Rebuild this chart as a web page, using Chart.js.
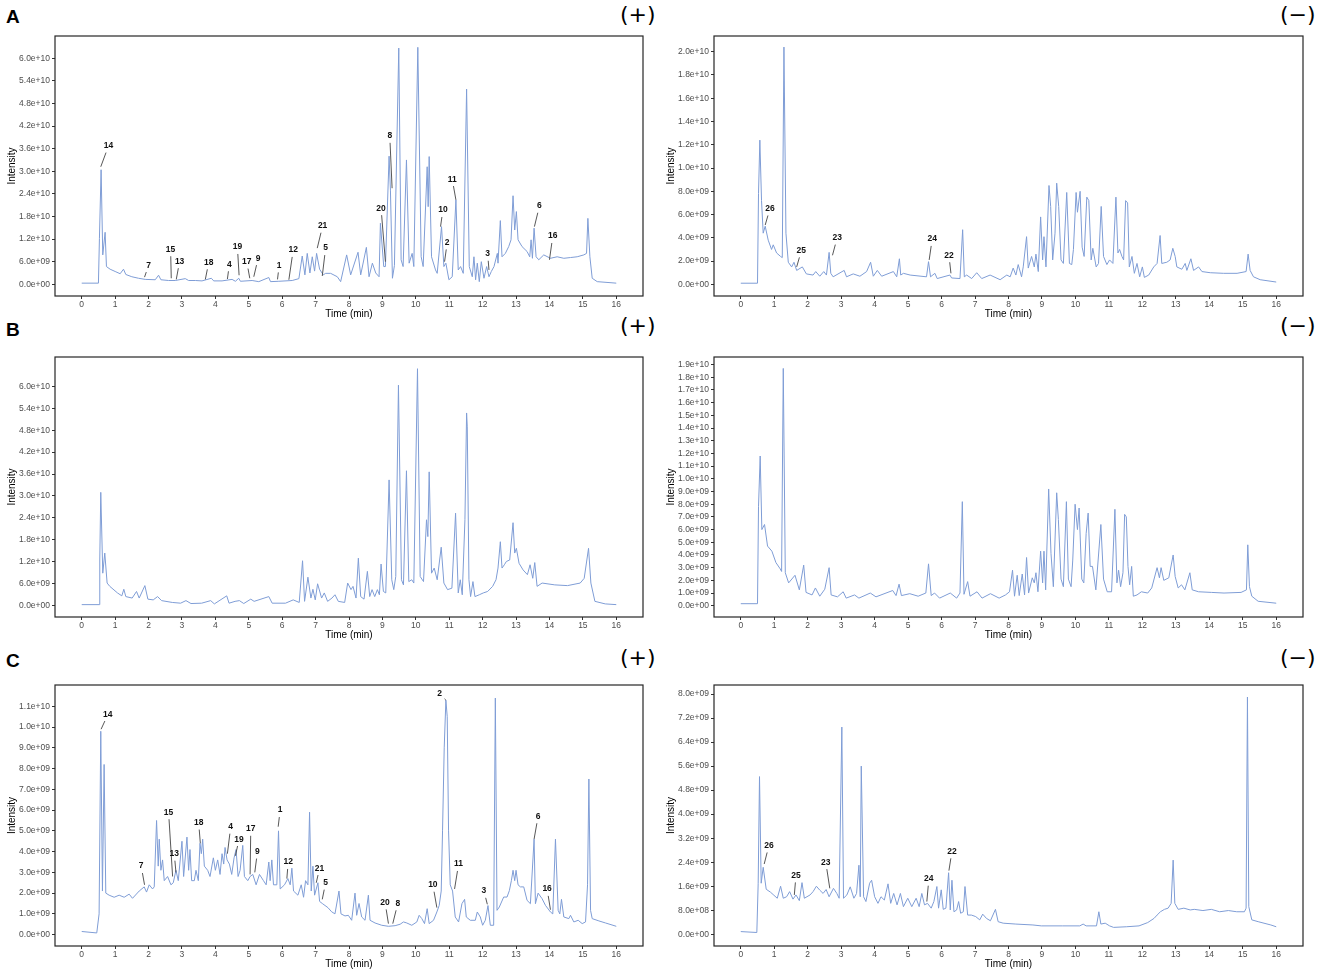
<!DOCTYPE html>
<html>
<head>
<meta charset="utf-8">
<script src="https://cdn.jsdelivr.net/npm/chart.js@4.4.1/dist/chart.umd.min.js"></script>
<style>
  body { margin: 0; background: #fff; width: 1325px; height: 978px; position: relative; overflow: hidden; }
  canvas { position: absolute; }
  .tag { position: absolute; font: bold 19px "Liberation Sans", Arial, sans-serif; line-height: 1; color: #000; }
  .mode { position: absolute; font: 22px "DejaVu Sans", sans-serif; line-height: 1; color: #000; }
</style>
</head>
<body>
<div class="tag" style="left:6px;top:7px">A</div>
<div class="tag" style="left:6px;top:320px">B</div>
<div class="tag" style="left:6px;top:651px">C</div>
<div class="mode" style="left:620px;top:4px">(+)</div>
<div class="mode" style="left:1280px;top:4px">(−)</div>
<div class="mode" style="left:620px;top:315px">(+)</div>
<div class="mode" style="left:1280px;top:315px">(−)</div>
<div class="mode" style="left:620px;top:647px">(+)</div>
<div class="mode" style="left:1280px;top:647px">(−)</div>

<canvas id="aPos"></canvas>
<canvas id="aNeg"></canvas>
<canvas id="bPos"></canvas>
<canvas id="bNeg"></canvas>
<canvas id="cPos"></canvas>
<canvas id="cNeg"></canvas>

<script>
// intensities are in units of 1e9, times in minutes
const GIGA = 1e9;
const xTicks = [0, 1, 2, 3, 4, 5, 6, 7, 8, 9, 10, 11, 12, 13, 14, 15, 16];

// ---- A (+) ----
const aPosT = [
  0, 0.5, 0.53, 0.58, 0.63, 0.70, 0.74, 0.85, 1.0, 1.15,
  1.25, 1.32, 1.5, 1.7, 1.9, 2.2, 2.3, 2.37, 2.6, 2.8,
  3.1, 3.2, 3.4, 3.6, 3.88, 3.95, 4.2, 4.5, 4.6, 4.7,
  4.75, 5.1, 5.3, 5.6, 5.65, 5.9, 6.3, 6.5, 6.6, 6.68,
  6.75, 6.83, 6.9, 6.97, 7.03, 7.12, 7.23, 7.3, 7.45, 7.65,
  7.75, 7.93, 8.05, 8.27, 8.35, 8.52, 8.6, 8.7, 8.8, 8.9,
  8.94, 9.04, 9.09, 9.2, 9.24, 9.3, 9.36, 9.49, 9.56, 9.62,
  9.72, 9.8, 9.89, 9.94, 10.06, 10.16, 10.22, 10.34, 10.37, 10.40,
  10.47, 10.59, 10.64, 10.77, 10.84, 10.9, 10.99, 11.09, 11.2, 11.27,
  11.34, 11.42, 11.52, 11.6, 11.69, 11.74, 11.79, 11.84, 11.9, 11.96,
  12.04, 12.12, 12.19, 12.26, 12.34, 12.44, 12.46, 12.53, 12.58, 12.68,
  12.78, 12.85, 12.91, 12.96, 13.01, 13.06, 13.18, 13.33, 13.41, 13.45,
  13.49, 13.54, 13.6, 13.68, 13.83, 14.03, 14.23, 14.43, 14.63, 14.83,
  15.03, 15.11, 15.15, 15.21, 15.28, 15.43, 16.0
];
const aPosI = [
  0.3, 0.3, 12.2, 30.4, 7.8, 13.8, 4.7, 4.0, 3.4, 2.8,
  4.0, 2.6, 2.0, 1.6, 1.3, 1.2, 2.4, 1.2, 1.0, 1.0,
  1.5, 1.0, 1.0, 0.9, 1.6, 0.9, 0.9, 1.3, 0.8, 1.6,
  0.8, 1.0, 0.7, 1.8, 0.7, 0.8, 1.0, 1.5, 7.5, 2.5,
  8.2, 3.0, 7.3, 3.5, 8.2, 4.0, 2.5, 2.9, 2.9, 2.0,
  0.7, 7.8, 2.5, 8.5, 2.5, 9.8, 2.0, 5.6, 3.0, 2.0,
  16.2, 4.7, 4.7, 34.0, 25.0, 1.6, 5.0, 62.7, 6.5, 4.7,
  33.0, 5.6, 8.2, 4.7, 62.9, 7.3, 4.7, 31.2, 20.6, 33.9,
  7.3, 3.8, 2.9, 15.3, 4.7, 5.6, 1.2, 2.0, 22.4, 3.8,
  4.7, 2.9, 51.8, 4.7, 2.0, 7.3, 1.2, 5.6, 0.7, 6.0,
  1.6, 4.7, 2.0, 3.4, 4.7, 8.2, 5.6, 16.9, 7.3, 8.2,
  10.0, 11.8, 23.5, 14.4, 19.3, 11.8, 10.0, 8.7, 7.3, 11.8,
  6.9, 14.9, 7.3, 6.5, 7.8, 6.9, 7.3, 6.9, 7.1, 7.3,
  7.8, 8.2, 17.5, 7.3, 1.6, 0.7, 0.3
];
const aPosTicks = [0, 6, 12, 18, 24, 30, 36, 42, 48, 54, 60];
const aPosNames = ["14", "7", "15", "13", "18", "4", "19", "17", "9", "1", "12", "21", "5", "20", "8", "10", "2", "11", "3", "6", "16"];
const aPosTextT = [0.80, 2.0, 2.66, 2.93, 3.8, 4.42, 4.66, 4.94, 5.28, 5.91, 6.33, 7.21, 7.3, 8.96, 9.22, 10.81, 10.94, 11.09, 12.15, 13.70, 14.1];
const aPosTextI = [36.7, 5.0, 9.3, 6.1, 5.8, 5.3, 9.9, 6.0, 6.9, 5.0, 9.1, 15.5, 9.6, 20.2, 39.4, 19.7, 11.1, 27.9, 8.1, 20.8, 12.8];
const aPosTipT = [0.57, 1.88, 2.68, 2.83, 3.7, 4.36, 4.71, 5.03, 5.15, 5.86, 6.2, 7.05, 7.2, 9.09, 9.29, 10.74, 10.86, 11.2, 12.19, 13.55, 14.0];
const aPosTipI = [31.2, 1.9, 1.6, 1.3, 1.3, 1.4, 2.4, 1.6, 2.0, 1.3, 1.2, 9.6, 2.2, 6.0, 25.5, 15.3, 6.0, 22.4, 3.8, 15.3, 6.5];

// ---- A (-) ----
const aNegT = [
  0, 0.5, 0.53, 0.57, 0.62, 0.67, 0.73, 0.82, 0.92, 0.97,
  1.07, 1.19, 1.24, 1.29, 1.35, 1.42, 1.52, 1.59, 1.67, 1.84,
  1.96, 2.16, 2.24, 2.36, 2.48, 2.56, 2.64, 2.69, 2.76, 3.09,
  3.16, 3.36, 3.56, 3.76, 3.88, 3.96, 4.08, 4.21, 4.56, 4.66,
  4.74, 4.78, 4.86, 5.06, 5.55, 5.61, 5.67, 5.8, 5.87, 6.25,
  6.3, 6.55, 6.63, 6.68, 6.75, 6.9, 7.05, 7.2, 7.45, 7.75,
  7.95, 8.05, 8.14, 8.22, 8.29, 8.39, 8.44, 8.54, 8.59, 8.69,
  8.77, 8.82, 8.89, 8.96, 9.02, 9.06, 9.12, 9.21, 9.26, 9.32,
  9.39, 9.44, 9.5, 9.57, 9.64, 9.74, 9.82, 9.89, 9.94, 10.02,
  10.06, 10.14, 10.2, 10.26, 10.34, 10.4, 10.47, 10.52, 10.62, 10.69,
  10.77, 10.84, 10.94, 11.02, 11.12, 11.21, 11.27, 11.32, 11.39, 11.44,
  11.5, 11.56, 11.61, 11.69, 11.76, 11.84, 11.92, 12.0, 12.06, 12.19,
  12.34, 12.44, 12.53, 12.58, 12.73, 12.83, 12.91, 12.98, 13.03, 13.18,
  13.28, 13.33, 13.45, 13.53, 13.68, 13.78, 14.03, 14.43, 14.83, 15.1,
  15.16, 15.22, 15.32, 15.52, 16.0
];
const aNegI = [
  0.1, 0.1, 7.8, 12.4, 7.2, 4.4, 5.0, 3.8, 3.0, 3.4,
  2.7, 2.4, 2.3, 20.4, 4.4, 1.9, 1.5, 1.9, 1.2, 1.5,
  0.9, 0.8, 1.1, 0.7, 1.1, 0.8, 2.75, 0.95, 0.65, 1.2,
  0.65, 0.9, 0.7, 1.1, 1.9, 0.7, 1.2, 0.7, 1.1, 0.65,
  2.2, 0.8, 0.95, 0.8, 0.65, 1.95, 0.65, 0.95, 0.5, 0.8,
  0.55, 0.5, 4.7, 0.65, 0.8, 0.5, 1.0, 0.5, 0.8, 0.4,
  0.8, 0.65, 1.4, 0.8, 1.7, 0.65, 1.5, 4.1, 1.4, 2.4,
  1.5, 2.6, 1.1, 5.8, 2.1, 4.1, 1.5, 8.5, 6.7, 2.1,
  4.4, 8.7, 6.7, 2.1, 1.8, 7.9, 1.8, 1.7, 3.0, 7.9,
  6.2, 8.0, 3.2, 2.4, 7.5, 7.2, 2.1, 3.1, 1.5, 1.8,
  6.7, 2.4, 1.7, 2.1, 1.8, 7.5, 2.7, 3.0, 2.4, 2.1,
  7.2, 7.0, 1.5, 2.4, 0.95, 1.8, 0.65, 1.5, 0.6, 0.8,
  1.5, 1.8, 4.2, 1.8, 1.9, 2.1, 3.1, 2.4, 1.5, 1.3,
  1.8, 1.2, 2.2, 1.2, 1.5, 1.1, 1.0, 0.95, 0.95, 1.1,
  2.6, 1.2, 0.65, 0.4, 0.2
];
const aNegTicks = [0, 2, 4, 6, 8, 10, 12, 14, 16, 18, 20];
const aNegNames = ["26", "25", "23", "24", "22"];
const aNegTextT = [0.87, 1.81, 2.88, 5.72, 6.22];
const aNegTextI = [6.5, 2.9, 4.0, 3.9, 2.5];
const aNegTipT = [0.73, 1.67, 2.74, 5.63, 6.28];
const aNegTipI = [5.1, 1.5, 2.5, 2.1, 0.95];

// ---- B (+) ----
const bPosT = [
  0, 0.52, 0.54, 0.57, 0.63, 0.69, 0.76, 0.84, 1.07, 1.2,
  1.26, 1.32, 1.51, 1.64, 1.72, 1.89, 1.98, 2.14, 2.27, 2.39,
  2.71, 2.96, 3.12, 3.27, 3.59, 3.86, 3.97, 4.34, 4.41, 4.59,
  4.72, 4.85, 5.06, 5.16, 5.6, 5.7, 6.1, 6.33, 6.51, 6.61,
  6.67, 6.77, 6.86, 6.92, 6.99, 7.06, 7.18, 7.26, 7.36, 7.49,
  7.58, 7.68, 7.87, 7.96, 8.06, 8.12, 8.21, 8.28, 8.35, 8.45,
  8.55, 8.62, 8.69, 8.77, 8.85, 8.91, 8.96, 9.03, 9.1, 9.2,
  9.28, 9.34, 9.4, 9.48, 9.57, 9.63, 9.72, 9.79, 9.88, 9.94,
  10.05, 10.13, 10.23, 10.32, 10.36, 10.4, 10.47, 10.55, 10.64, 10.76,
  10.84, 10.95, 11.08, 11.19, 11.27, 11.33, 11.39, 11.47, 11.52, 11.54,
  11.59, 11.64, 11.71, 11.77, 11.9, 12.02, 12.15, 12.3, 12.4, 12.46,
  12.53, 12.58, 12.65, 12.71, 12.81, 12.91, 12.96, 13.01, 13.09, 13.21,
  13.34, 13.42, 13.5, 13.56, 13.63, 13.78, 14.16, 14.54, 14.92, 15.04,
  15.17, 15.24, 15.36, 15.67, 16.0
];
const bPosI = [
  0.3, 0.3, 12.5, 31.0, 8.9, 14.4, 6.2, 5.3, 3.5, 2.7,
  4.5, 2.5, 2.1, 3.9, 2.1, 5.5, 1.8, 1.6, 2.5, 1.4,
  0.9, 0.7, 1.4, 0.6, 0.7, 1.4, 0.5, 2.7, 0.7, 1.2,
  1.4, 0.6, 1.8, 1.2, 2.5, 0.7, 0.7, 1.6, 0.9, 12.3,
  1.2, 7.8, 2.1, 4.5, 1.6, 6.0, 2.1, 3.5, 1.2, 2.1,
  3.0, 1.2, 0.9, 6.2, 4.4, 5.3, 2.1, 13.0, 2.5, 1.8,
  9.4, 2.5, 4.4, 2.5, 4.4, 3.0, 11.4, 3.9, 3.5, 34.4,
  7.1, 4.4, 8.0, 60.3, 7.1, 5.7, 36.9, 6.6, 7.1, 6.2,
  64.8, 8.0, 6.6, 23.5, 18.9, 36.6, 8.9, 10.3, 7.1, 16.0,
  6.2, 4.4, 4.8, 25.3, 3.5, 7.1, 3.0, 23.5, 52.7, 48.9,
  7.1, 2.5, 6.6, 2.5, 3.0, 3.5, 3.9, 5.3, 7.1, 10.3,
  17.5, 10.3, 11.2, 12.1, 12.5, 22.7, 14.4, 15.7, 11.6, 9.8,
  8.5, 11.2, 7.5, 11.8, 5.3, 6.2, 5.7, 5.5, 6.2, 7.5,
  15.7, 6.2, 1.2, 0.5, 0.3
];
const bPosTicks = [0, 6, 12, 18, 24, 30, 36, 42, 48, 54, 60];

// ---- B (-) ----
const bNegT = [
  0, 0.5, 0.53, 0.58, 0.63, 0.71, 0.8, 0.93, 1.05, 1.18,
  1.22, 1.27, 1.33, 1.43, 1.62, 1.75, 1.88, 1.95, 2.13, 2.23,
  2.36, 2.51, 2.64, 2.7, 2.89, 3.06, 3.15, 3.4, 3.53, 3.87,
  4.04, 4.54, 4.64, 4.73, 4.8, 5.05, 5.3, 5.53, 5.61, 5.69,
  5.79, 5.94, 6.26, 6.45, 6.55, 6.62, 6.67, 6.78, 6.85, 7.06,
  7.21, 7.46, 7.72, 7.91, 8.03, 8.12, 8.18, 8.26, 8.32, 8.41,
  8.48, 8.54, 8.6, 8.71, 8.77, 8.82, 8.88, 8.96, 9.02, 9.06,
  9.11, 9.2, 9.27, 9.34, 9.44, 9.49, 9.57, 9.64, 9.73, 9.79,
  9.87, 9.92, 9.99, 10.06, 10.11, 10.19, 10.25, 10.32, 10.38, 10.44,
  10.51, 10.61, 10.76, 10.84, 10.95, 11.08, 11.18, 11.24, 11.29, 11.35,
  11.42, 11.47, 11.52, 11.57, 11.62, 11.68, 11.73, 11.84, 11.97, 12.16,
  12.28, 12.44, 12.51, 12.56, 12.64, 12.79, 12.92, 12.98, 13.07, 13.17,
  13.27, 13.42, 13.49, 13.68, 14.06, 14.44, 14.95, 15.11, 15.15, 15.2,
  15.27, 15.46, 16.0
];
const bNegI = [
  0.16, 0.16, 7.8, 11.8, 6.0, 6.4, 4.7, 4.3, 3.4, 2.9,
  2.7, 18.7, 2.6, 1.8, 2.4, 1.25, 3.2, 1.05, 0.85, 1.4,
  0.75, 1.3, 3.0, 0.85, 0.7, 1.1, 0.6, 0.85, 0.6, 1.0,
  0.7, 1.2, 0.8, 1.7, 0.8, 0.95, 0.75, 1.0, 3.3, 0.8,
  1.0, 0.6, 1.0, 0.6, 1.0, 8.2, 0.9, 1.9, 0.75, 1.1,
  0.6, 0.95, 0.6, 0.85, 1.1, 2.8, 0.75, 2.4, 0.8, 2.5,
  0.85, 3.8, 1.0, 2.2, 1.8, 2.6, 1.1, 4.3, 1.8, 4.3,
  1.25, 9.2, 4.1, 1.5, 8.9, 6.8, 2.1, 1.5, 8.2, 2.1,
  1.5, 3.6, 8.0, 6.0, 7.7, 2.1, 1.8, 5.7, 7.3, 3.1,
  3.1, 1.25, 6.4, 2.1, 1.1, 1.1, 7.6, 1.8, 2.8, 1.5,
  2.6, 7.2, 7.0, 3.1, 1.65, 3.1, 0.75, 0.85, 1.1, 1.0,
  1.4, 3.0, 2.2, 3.0, 2.0, 2.2, 4.0, 2.3, 1.4, 1.65,
  1.25, 2.6, 1.25, 1.1, 1.05, 1.0, 1.05, 1.25, 4.8, 1.5,
  0.75, 0.35, 0.2
];
const bNegTicks = [0, 1, 2, 3, 4, 5, 6, 7, 8, 9, 10, 11, 12, 13, 14, 15, 16, 17, 18, 19];

// ---- C (+) ----
const cPosT = [
  0, 0.45, 0.52, 0.57, 0.62, 0.67, 0.72, 0.82, 0.97, 1.12,
  1.27, 1.42, 1.52, 1.72, 1.87, 1.94, 2.02, 2.12, 2.17, 2.24,
  2.29, 2.32, 2.37, 2.42, 2.47, 2.57, 2.67, 2.74, 2.82, 2.89,
  3.0, 3.05, 3.15, 3.2, 3.24, 3.29, 3.37, 3.42, 3.49, 3.54,
  3.58, 3.62, 3.67, 3.77, 3.84, 3.94, 4.0, 4.07, 4.14, 4.2,
  4.25, 4.29, 4.35, 4.42, 4.49, 4.56, 4.62, 4.68, 4.74, 4.82,
  4.87, 4.97, 5.04, 5.12, 5.22, 5.32, 5.44, 5.52, 5.6, 5.64,
  5.69, 5.74, 5.84, 5.89, 5.94, 6.07, 6.17, 6.24, 6.29, 6.34,
  6.47, 6.57, 6.64, 6.7, 6.77, 6.82, 6.87, 6.92, 6.97, 7.07,
  7.12, 7.2, 7.37, 7.48, 7.58, 7.7, 7.76, 7.88, 7.98, 8.08,
  8.18, 8.23, 8.3, 8.38, 8.48, 8.58, 8.63, 8.78, 8.98, 9.18,
  9.38, 9.53, 9.63, 9.73, 9.88, 10.03, 10.1, 10.18, 10.26, 10.34,
  10.4, 10.53, 10.63, 10.7, 10.76, 10.8, 10.85, 10.9, 10.94, 10.98,
  11.03, 11.1, 11.18, 11.28, 11.38, 11.46, 11.51, 11.63, 11.78, 11.84,
  11.93, 12.0, 12.08, 12.16, 12.23, 12.33, 12.38, 12.43, 12.5, 12.63,
  12.73, 12.8, 12.86, 12.91, 12.96, 13.0, 13.06, 13.13, 13.23, 13.33,
  13.43, 13.54, 13.58, 13.66, 13.78, 13.88, 14.03, 14.1, 14.18, 14.26,
  14.31, 14.36, 14.43, 14.58, 14.63, 14.73, 14.86, 14.98, 15.08, 15.14,
  15.18, 15.23, 15.28, 15.48, 15.68, 16.0
];
const cPosI = [
  0.15, 0.08, 1.0, 9.8, 2.1, 8.2, 2.0, 1.9, 1.8, 1.9,
  1.8, 1.95, 1.75, 2.1, 2.3, 2.05, 2.4, 2.2, 2.3, 5.5,
  3.3, 4.6, 3.1, 3.6, 2.6, 2.8, 2.4, 2.5, 3.1, 2.6,
  4.5, 2.8, 4.7, 3.1, 4.1, 2.6, 2.6, 3.1, 2.6, 4.4,
  3.9, 4.6, 3.3, 3.1, 2.8, 3.7, 3.1, 3.6, 2.9, 3.9,
  3.4, 4.2, 3.6, 3.4, 2.9, 3.7, 4.1, 2.8, 3.1, 4.3,
  2.8, 2.6, 2.8, 2.9, 2.4, 2.9, 2.6, 2.4, 3.5, 2.6,
  3.6, 2.4, 2.4, 5.0, 2.2, 2.4, 2.7, 2.4, 3.2, 2.1,
  1.9, 2.4, 1.8, 2.6, 2.4, 5.9, 2.1, 3.3, 1.9, 2.5,
  1.6, 1.5, 1.3, 1.1, 1.0, 2.1, 1.0, 0.9, 0.93, 0.69,
  2.0, 0.93, 1.5, 0.85, 0.69, 1.9, 0.69, 0.56, 0.45, 0.4,
  0.43, 0.5, 0.61, 0.56, 0.45, 0.61, 0.93, 0.77, 0.53, 1.25,
  0.53, 0.69, 1.09, 1.41, 2.1, 5.0, 9.0, 11.3, 10.5, 5.0,
  2.4, 2.1, 0.85, 0.61, 1.49, 1.7, 0.85, 0.69, 0.69, 1.09,
  0.85, 0.45, 0.69, 1.4, 0.45, 0.45, 11.4, 1.17, 1.33, 1.81,
  1.81, 2.12, 2.6, 3.1, 2.6, 3.1, 2.4, 2.3, 2.3, 1.65,
  1.49, 4.6, 1.49, 2.0, 1.73, 1.41, 1.09, 1.0, 4.6, 1.17,
  1.0, 1.7, 0.85, 0.77, 0.93, 0.61, 0.69, 0.53, 0.61, 2.4,
  7.5, 1.17, 0.77, 0.66, 0.56, 0.4
];
const cPosTicks = [0, 1, 2, 3, 4, 5, 6, 7, 8, 9, 10, 11];
const cPosNames = ["14", "7", "15", "13", "18", "4", "19", "17", "9", "1", "12", "21", "5", "2", "20", "8", "10", "11", "3", "6", "16"];
const cPosTextT = [0.78, 1.78, 2.6, 2.77, 3.5, 4.46, 4.71, 5.06, 5.26, 5.94, 6.18, 7.12, 7.3, 10.71, 9.08, 9.46, 10.51, 11.28, 12.04, 13.66, 13.93];
const cPosTextI = [10.6, 3.3, 5.9, 3.9, 5.4, 5.2, 4.6, 5.1, 4.0, 6.0, 3.5, 3.2, 2.5, 11.6, 1.55, 1.5, 2.4, 3.4, 2.1, 5.7, 2.2];
const cPosTipT = [0.58, 1.88, 2.72, 2.82, 3.55, 4.36, 4.6, 5.04, 5.18, 5.88, 6.14, 7.02, 7.2, 10.9, 9.18, 9.31, 10.63, 11.16, 12.14, 13.54, 14.03];
const cPosTipI = [9.9, 2.4, 2.8, 3.0, 4.4, 3.9, 3.8, 2.9, 3.0, 5.2, 2.7, 2.5, 1.7, 11.3, 0.53, 0.53, 1.3, 2.2, 1.46, 4.6, 1.2];

// ---- C (-) ----
const cNegT = [
  0, 0.48, 0.52, 0.56, 0.61, 0.67, 0.76, 0.89, 0.99, 1.09,
  1.19, 1.27, 1.37, 1.46, 1.56, 1.65, 1.75, 1.83, 1.9, 2.07,
  2.16, 2.26, 2.36, 2.46, 2.55, 2.64, 2.77, 2.87, 2.94, 3.02,
  3.07, 3.17, 3.27, 3.38, 3.46, 3.53, 3.57, 3.6, 3.67, 3.74,
  3.85, 3.91, 4.0, 4.1, 4.19, 4.29, 4.4, 4.48, 4.57, 4.67,
  4.77, 4.86, 4.99, 5.11, 5.24, 5.33, 5.41, 5.49, 5.58, 5.69,
  5.77, 5.86, 5.91, 5.99, 6.05, 6.13, 6.21, 6.26, 6.31, 6.37,
  6.45, 6.51, 6.57, 6.65, 6.7, 6.78, 6.89, 7.02, 7.14, 7.23,
  7.34, 7.46, 7.61, 7.69, 7.84, 8.22, 8.73, 8.98, 9.62, 10.13,
  10.23, 10.32, 10.63, 10.7, 10.76, 10.89, 11.02, 11.14, 11.52, 11.9,
  12.16, 12.35, 12.44, 12.54, 12.66, 12.77, 12.86, 12.92, 12.97, 13.07,
  13.24, 13.43, 13.55, 13.81, 14.06, 14.31, 14.57, 14.82, 15.05, 15.1,
  15.14, 15.18, 15.27, 15.46, 15.84, 16.0
];
const cNegI = [
  0.09, 0.06, 1.7, 5.25, 1.7, 2.23, 1.5, 1.4, 1.3, 1.2,
  1.6, 1.2, 1.25, 1.42, 1.17, 1.31, 1.12, 1.72, 1.2, 1.31,
  1.42, 1.6, 1.47, 1.36, 1.49, 1.25, 1.53, 1.36, 1.2, 6.9,
  1.2, 1.31, 1.58, 1.2, 1.36, 2.3, 1.25, 5.6, 1.25, 1.09,
  1.7, 1.8, 1.25, 1.03, 1.25, 1.14, 1.68, 1.03, 1.36, 0.98,
  1.36, 0.92, 1.2, 0.92, 1.2, 0.92, 1.36, 0.98, 1.03, 0.87,
  1.09, 1.59, 0.87, 1.48, 0.83, 0.87, 2.05, 0.81, 1.8, 0.75,
  0.81, 1.09, 0.7, 0.75, 1.59, 0.64, 0.64, 0.59, 0.48, 0.67,
  0.53, 0.45, 0.83, 0.42, 0.37, 0.34, 0.31, 0.28, 0.28, 0.28,
  0.34, 0.28, 0.28, 0.75, 0.34, 0.37, 0.28, 0.23, 0.25, 0.28,
  0.39, 0.53, 0.64, 0.75, 0.83, 0.87, 1.03, 2.47, 1.03, 0.83,
  0.87, 0.81, 0.83, 0.79, 0.83, 0.75, 0.79, 0.75, 0.75, 0.87,
  7.9, 0.92, 0.48, 0.42, 0.31, 0.25
];
const cNegTicks = [0, 0.8, 1.6, 2.4, 3.2, 4.0, 4.8, 5.6, 6.4, 7.2, 8.0];
const cNegNames = ["26", "25", "23", "24", "22"];
const cNegTextT = [0.84, 1.65, 2.54, 5.62, 6.31];
const cNegTextI = [2.95, 1.96, 2.4, 1.85, 2.76];
const cNegTipT = [0.7, 1.6, 2.66, 5.56, 6.22];
const cNegTipI = [2.34, 1.31, 1.53, 1.09, 2.12];

const FONT = '"Liberation Sans", Arial, sans-serif';
Chart.defaults.font.family = FONT;

function sci(v) {
  if (v === 0) return "0.0e+00";
  const e = Math.floor(Math.log10(Math.abs(v)) + 1e-9);
  const m = v / Math.pow(10, e);
  return m.toFixed(1) + "e+" + String(e).padStart(2, "0");
}

const frame = {
  id: "frame",
  afterDraw(chart) {
    const { ctx, chartArea: a } = chart;
    ctx.save();
    ctx.strokeStyle = "#262626";
    ctx.lineWidth = 1.2;
    ctx.strokeRect(a.left, a.top, a.right - a.left, a.bottom - a.top);
    ctx.restore();
  }
};

function peakPlugin(p) {
  return {
    id: "peakLabels",
    afterDatasetsDraw(chart) {
      if (!p) return;
      const xs = chart.scales.x, ys = chart.scales.y, ctx = chart.ctx;
      ctx.save();
      ctx.font = "bold 8.5px " + FONT;
      ctx.textAlign = "center";
      ctx.textBaseline = "middle";
      ctx.strokeStyle = "#444";
      ctx.lineWidth = 0.9;
      ctx.fillStyle = "#111";
      p.names.forEach((name, i) => {
        const tx = xs.getPixelForValue(p.textT[i]);
        const ty = ys.getPixelForValue(p.textI[i] * GIGA);
        const px = xs.getPixelForValue(p.tipT[i]);
        const py = ys.getPixelForValue(p.tipI[i] * GIGA);
        const dx = px - tx, dy = py - ty, d = Math.hypot(dx, dy);
        if (d > 8) {
          ctx.beginPath();
          ctx.moveTo(tx + dx * 7 / d, ty + dy * 7 / d);
          ctx.lineTo(px, py);
          ctx.stroke();
        }
        ctx.fillText(name, tx, ty);
      });
      ctx.restore();
    }
  };
}

function drawPanel(id, box, times, values, yMin, yMax, yTicks, peaks) {
  const cv = document.getElementById(id);
  const padTop = 8, padRight = 6, yw = 55, xh = 24;
  cv.style.left = (box.left - yw) + "px";
  cv.style.top = (box.top - padTop) + "px";
  cv.width = box.right - box.left + yw + padRight;
  cv.height = box.bottom - box.top + padTop + xh;

  new Chart(cv, {
    type: "line",
    data: {
      datasets: [{
        data: times.map((t, i) => ({ x: t, y: values[i] * GIGA })),
        borderColor: "#7f9dd6",
        borderWidth: 1,
        pointRadius: 0,
        tension: 0,
        fill: false
      }]
    },
    options: {
      responsive: false,
      animation: false,
      layout: { padding: { top: padTop, right: padRight, left: 0, bottom: 0 } },
      plugins: { legend: { display: false }, tooltip: { enabled: false } },
      scales: {
        x: {
          type: "linear",
          min: -0.8,
          max: 16.8,
          afterBuildTicks: (s) => { s.ticks = xTicks.map(v => ({ value: v })); },
          afterFit: (s) => { s.height = xh; },
          grid: { display: true, drawOnChartArea: false, drawTicks: true, tickLength: 3, color: "#333" },
          border: { display: false },
          ticks: { font: { size: 8.5 }, color: "#4d4d4d", padding: 1, maxRotation: 0, autoSkip: false, callback: (v) => String(v) },
          title: { display: true, text: "Time (min)", font: { size: 10 }, color: "#000", padding: { top: 0, bottom: 0 } }
        },
        y: {
          type: "linear",
          min: yMin * GIGA,
          max: yMax * GIGA,
          afterBuildTicks: (s) => { s.ticks = yTicks.map(v => ({ value: v * GIGA })); },
          afterFit: (s) => { s.width = yw; },
          grid: { display: true, drawOnChartArea: false, drawTicks: true, tickLength: 3, color: "#333" },
          border: { display: false },
          ticks: { font: { size: 8.5 }, color: "#4d4d4d", padding: 2, autoSkip: false, callback: (v) => sci(v) },
          title: { display: true, text: "Intensity", font: { size: 10 }, color: "#000", padding: { top: 6, bottom: 0 } }
        }
      }
    },
    plugins: [frame, peakPlugin(peaks)]
  });
}

drawPanel("aPos", { left: 55, top: 36, right: 643, bottom: 296 }, aPosT, aPosI, -3.11, 65.9, aPosTicks,
  { names: aPosNames, textT: aPosTextT, textI: aPosTextI, tipT: aPosTipT, tipI: aPosTipI });
drawPanel("aNeg", { left: 714, top: 36, right: 1303, bottom: 296 }, aNegT, aNegI, -1.0, 21.35, aNegTicks,
  { names: aNegNames, textT: aNegTextT, textI: aNegTextI, tipT: aNegTipT, tipI: aNegTipI });
drawPanel("bPos", { left: 55, top: 357, right: 643, bottom: 617 }, bPosT, bPosI, -3.08, 68.0, bPosTicks, null);
drawPanel("bNeg", { left: 714, top: 357, right: 1303, bottom: 617 }, bNegT, bNegI, -0.888, 19.6, bNegTicks, null);
drawPanel("cPos", { left: 55, top: 685, right: 643, bottom: 946 }, cPosT, cPosI, -0.549, 12.03, cPosTicks,
  { names: cPosNames, textT: cPosTextT, textI: cPosTextI, tipT: cPosTipT, tipI: cPosTipI });
drawPanel("cNeg", { left: 714, top: 685, right: 1303, bottom: 946 }, cNegT, cNegI, -0.39, 8.30, cNegTicks,
  { names: cNegNames, textT: cNegTextT, textI: cNegTextI, tipT: cNegTipT, tipI: cNegTipI });
</script>
</body>
</html>
